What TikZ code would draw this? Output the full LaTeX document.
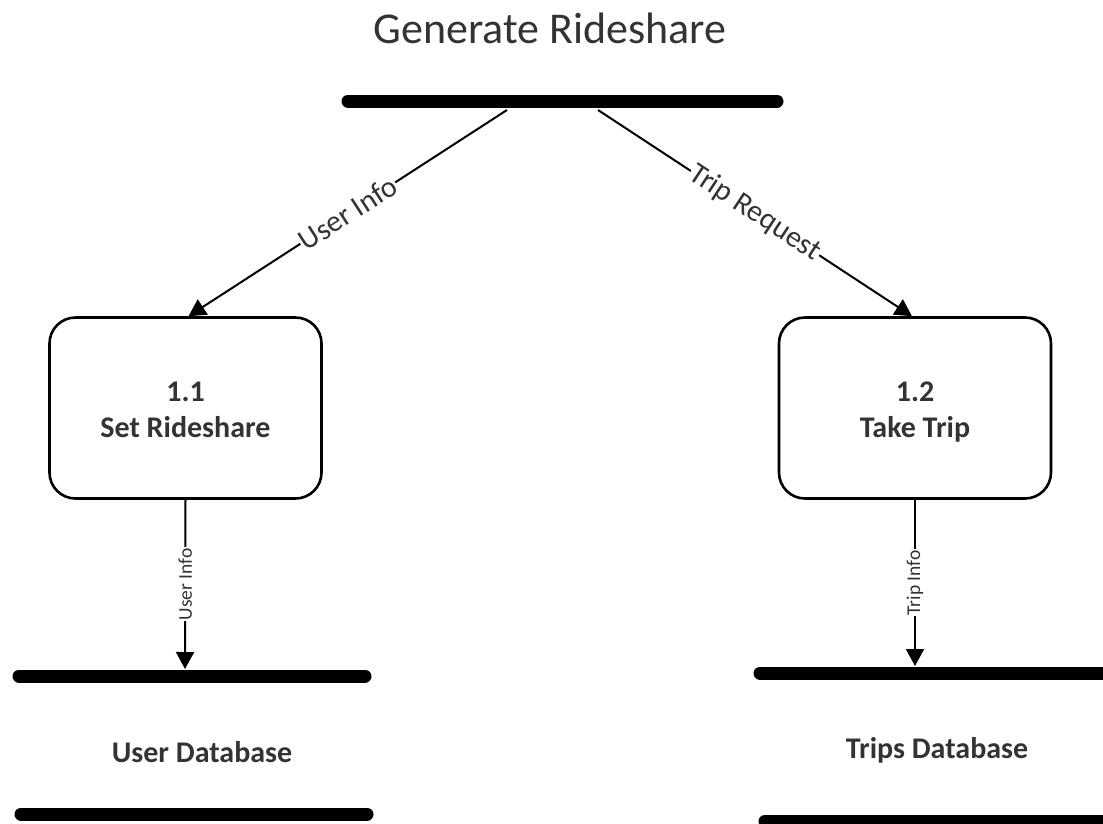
\documentclass[tikz,border=0pt]{standalone}
\usepackage{fontspec}
\setmainfont{Carlito}
\usetikzlibrary{arrows.meta}
\definecolor{txt}{HTML}{333333}
\newcommand{\toprule}{\rule{0pt}{33pt}}
\tikzset{
  store/.style={line width=13pt, line cap=round},
  process/.style={draw, line width=2.6pt, rounded corners=26pt,
    minimum width=272pt, minimum height=181pt, align=center,
    text=txt, font=\bfseries\fontsize{30}{36}\selectfont},
  flow/.style={line width=2pt, -{Triangle[width=18pt,length=17pt]}},
  biglabel/.style={midway, sloped, fill=white, inner sep=1pt, text=txt,
    font=\fontsize{30}{36}\selectfont},
  smalllabel/.style={midway, rotate=90, fill=white, inner sep=1pt, text=txt,
    font=\fontsize{19.5}{23}\selectfont},
  dblabel/.style={anchor=base, text=txt, font=\bfseries\fontsize{30}{36}\selectfont}
}
\begin{document}
\begin{tikzpicture}[x=1pt, y=-1pt]
\useasboundingbox (0,0) rectangle (1103,823);
\clip (0,0) rectangle (1103,823);

% title
\node[anchor=base, text=txt, font=\fontsize{44}{53}\selectfont] (title) at (550,43) {Generate Rideshare};

% external store at the top
\draw[store] (348,101) -- (777,101);
\coordinate (srcL) at (507,110);
\coordinate (srcR) at (598,110);

% processes (fixed line heights keep both text blocks at the same place)
\node[process] (p1) at (185.5,408) {\toprule 1.1\\\strut Set Rideshare};
\node[process] (p2) at (915,408) {\toprule 1.2\\\strut Take Trip};

% data stores
\draw[store] (19,676) -- (365,676);
\draw[store] (21,814) -- (367,814);
\node[dblabel] (db1) at (202,762) {User Database};
\coordinate (db1top) at (185,669);

\draw[store] (760,673) -- (1115,673);
\draw[store] (765,821) -- (1115,821);
\node[dblabel] (db2) at (937,758) {Trips Database};
\coordinate (db2top) at (915,666);

% data flows
\draw[flow] (srcL) -- ([xshift=3pt]p1.north) node[biglabel] {User Info};
\draw[flow] (srcR) -- ([xshift=-3pt]p2.north) node[biglabel] {Trip Request};
\draw[flow] (p1.south) -- (db1top) node[smalllabel] {User Info};
\draw[flow] (p2.south) -- (db2top) node[smalllabel] {Trip Info};
\end{tikzpicture}
\end{document}
